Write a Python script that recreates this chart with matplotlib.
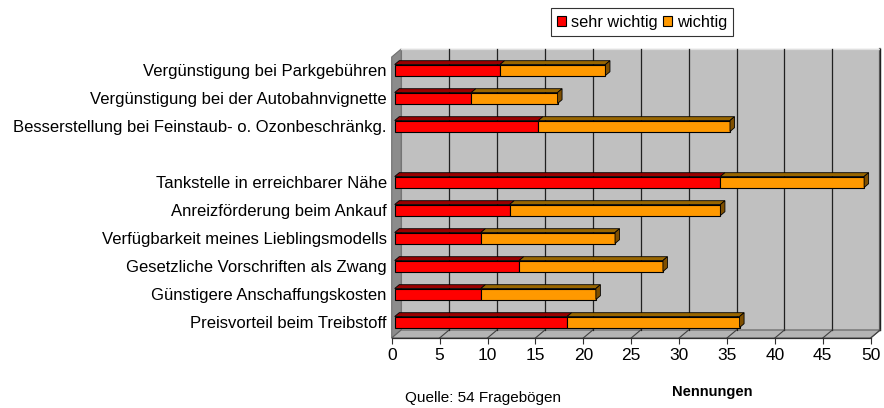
import matplotlib
matplotlib.use("Agg")
import matplotlib.pyplot as plt
from matplotlib.patches import Polygon, Rectangle

plt.rcParams['font.family'] = ['Liberation Sans', 'DejaVu Sans']

categories = [
    "Vergünstigung bei Parkgebühren",
    "Vergünstigung bei der Autobahnvignette",
    "Besserstellung bei Feinstaub- o. Ozonbeschränkg.",
    "",
    "Tankstelle in erreichbarer Nähe",
    "Anreizförderung beim Ankauf",
    "Verfügbarkeit meines Lieblingsmodells",
    "Gesetzliche Vorschriften als Zwang",
    "Günstigere Anschaffungskosten",
    "Preisvorteil beim Treibstoff",
]
sehr_wichtig = [11, 8, 15, None, 34, 12, 9, 13, 9, 18]
wichtig = [11, 9, 20, None, 15, 22, 14, 15, 12, 18]
xticks = [0, 5, 10, 15, 20, 25, 30, 35, 40, 45, 50]

W, H = 884, 408
x0_px, x50_px = 391.7, 870.7
fig = plt.figure(figsize=(W / 100, H / 100), dpi=100)
ax = fig.add_axes([x0_px / W, 1 - 338 / H, (x50_px - x0_px) / W, (338 - 57) / H])

xmax = 50
px_x = (x50_px - x0_px) / xmax   # pixels per unit
px_y = 28.0                      # pixels per category
ylo, yhi = (338 - 70) / px_y, (57 - 70) / px_y
ax.set_xlim(0, xmax)
ax.set_ylim(ylo, yhi)

# depth offsets (wall and bars) in data units
wdx, wdy = 9.5 / px_x, -8.0 / px_y
bdx, bdy = 4.5 / px_x, -3.8 / px_y
box = 3.0 / px_x
bh = 11.0 / px_y

wall_c = "#c0c0c0"
side_c = "#8c8c8c"
# back wall
ax.add_patch(Rectangle((wdx, ylo + wdy), xmax, (yhi - ylo), facecolor=wall_c,
                       edgecolor="#808080", lw=0.8, zorder=0, clip_on=False))
ax.plot([wdx + xmax, wdx + xmax], [ylo + wdy, yhi + wdy], color="#606060", lw=1.6,
        zorder=0.6, clip_on=False)
ax.plot([wdx, wdx + xmax], [yhi + wdy, yhi + wdy], color="#e0e0e0", lw=1.0,
        zorder=0.6, clip_on=False)
# left wall
ax.add_patch(Polygon([(0, ylo), (wdx, ylo + wdy), (wdx, yhi + wdy), (0, yhi)],
                     closed=True, facecolor=side_c, edgecolor="#707070", lw=0.8,
                     zorder=0.5, clip_on=False))
# floor
ax.add_patch(Polygon([(0, ylo), (xmax, ylo), (xmax + wdx, ylo + wdy), (wdx, ylo + wdy)],
                     closed=True, facecolor="#b4b4b4", edgecolor="#606060", lw=0.8,
                     zorder=0.5, clip_on=False))
for t in xticks[1:]:
    ax.plot([t + wdx, t + wdx], [ylo + wdy, yhi + wdy], color="#202020", lw=0.9,
            zorder=0.6, clip_on=False)
    ax.plot([t, t + wdx], [ylo, ylo + wdy], color="#404040", lw=0.8, zorder=0.6,
            clip_on=False)

ys = list(range(len(categories)))
for y, a, b in zip(ys, sehr_wichtig, wichtig):
    if a is None:
        continue
    ax.barh(y, a, left=box, height=bh, color="#ff0000", edgecolor="black", lw=0.8, zorder=3)
    ax.barh(y, b, left=box + a, height=bh, color="#ff9900", edgecolor="black", lw=0.8, zorder=3)
    top = y - bh / 2
    for s0, s1, c in [(0, a, "#990000"), (a, a + b, "#996600")]:
        ax.add_patch(Polygon([(box + s0, top), (box + s1, top), (box + s1 + bdx, top + bdy),
                              (box + s0 + bdx, top + bdy)], closed=True, facecolor=c,
                             edgecolor="black", lw=0.6, zorder=3))
    e = box + a + b
    ax.add_patch(Polygon([(e, top), (e + bdx, top + bdy), (e + bdx, top + bh + bdy), (e, top + bh)],
                         closed=True, facecolor="#7f4f00", edgecolor="black", lw=0.6, zorder=3))

for s in ["top", "right", "left"]:
    ax.spines[s].set_visible(False)
ax.spines["bottom"].set_color("#303030")
ax.spines["bottom"].set_linewidth(0.9)
ax.set_xticks(xticks)
ax.set_xticklabels([str(t) for t in xticks], fontsize=12.5)
ax.tick_params(axis="x", length=4.5, width=0.8, color="#303030", pad=3)
ax.set_yticks(ys)
ax.set_yticklabels(categories, fontsize=12)
ax.tick_params(axis="y", length=0, pad=3.5)

fig.text(483 / W, 1 - 398 / H, "Quelle: 54 Fragebögen", ha="center", va="center", fontsize=11)
fig.text(712 / W, 1 - 392 / H, "Nennungen", ha="center", va="center", fontsize=10.5,
         fontweight="bold")

h1 = Rectangle((0, 0), 1, 1, facecolor="#ff0000", edgecolor="black", lw=0.8)
h2 = Rectangle((0, 0), 1, 1, facecolor="#ff9900", edgecolor="black", lw=0.8)
leg = fig.legend([h1, h2], ["sehr wichtig", "wichtig"], loc="center",
                 bbox_to_anchor=(642 / W, 1 - 22 / H), ncol=2, fontsize=11.8,
                 frameon=True, fancybox=False, handlelength=0.55, handleheight=0.55,
                 handletextpad=0.3, columnspacing=0.3, borderpad=0.4, borderaxespad=0)
leg.get_frame().set_edgecolor("black")
leg.get_frame().set_linewidth(0.8)

fig.savefig("out.png", dpi=100)
